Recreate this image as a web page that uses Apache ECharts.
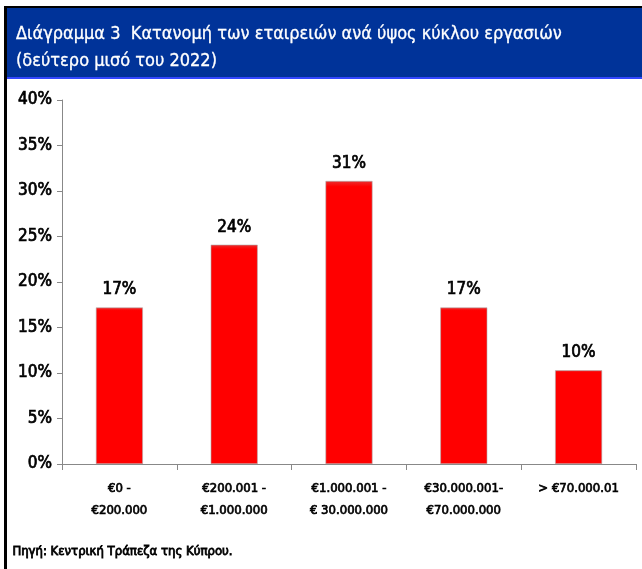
<!DOCTYPE html>
<html>
<head>
<meta charset="utf-8">
<script src="https://cdn.jsdelivr.net/npm/echarts@6/dist/echarts.min.js"></script>
<style>
  html, body { margin: 0; padding: 0; background: #fff; }
  #chart { width: 642px; height: 569px; }
</style>
</head>
<body>
<div id="chart"></div>
<script>
// turnover bands (x axis)
const categories = ['€0 -\n€200.000', '€200.001 -\n€1.000.000', '€1.000.001 -\n€ 30.000.000', '€30.000.001-\n€70.000.000', '> €70.000.01'];
// share of companies, %
const shares = [17.2, 24.1, 31.1, 17.2, 10.3];
const titleLines = ['Διάγραμμα 3  Κατανομή των εταιρειών ανά ύψος κύκλου εργασιών', '(δεύτερο μισό του 2022)'];
const sourceText = 'Πηγή: Κεντρική Τράπεζα της Κύπρου.';

const font = '"DejaVu Sans Condensed", sans-serif';
// condensed face has no narrow bold here, so thicken with a thin outline
const heavy = { fontFamily: font, fontWeight: 'normal', color: '#000', textBorderColor: '#000', textBorderWidth: 0.7 };

let chart = echarts.init(document.getElementById('chart'));
chart.setOption({
    animation: false,
    backgroundColor: '#fff',
    title: {
        text: titleLines.join('\n'),
        left: 11, top: 16,
        textStyle: { color: '#fff', fontFamily: font, fontSize: 18, fontWeight: 'normal', lineHeight: 27,
            textBorderColor: '#fff', textBorderWidth: 0.3 }
    },
    graphic: [
        // title band
        { type: 'rect', z: -1, shape: { x: 6, y: 8, width: 636, height: 69 }, style: { fill: '#003399' } },
        { type: 'rect', z: -1, shape: { x: 6, y: 77, width: 636, height: 2 }, style: { fill: '#3347ff' } },
        // frame lines
        { type: 'rect', shape: { x: 4, y: 6, width: 638, height: 2 }, style: { fill: '#000' } },
        { type: 'rect', shape: { x: 4, y: 6, width: 3, height: 563 }, style: { fill: '#000' } },
        {
            type: 'text', left: 12, top: 545,
            style: { text: sourceText, fill: '#000', font: '13px ' + font, stroke: '#000', lineWidth: 0.8 }
        }
    ],
    grid: { left: 62, right: 6, top: 100, bottom: 105 },
    xAxis: {
        type: 'category',
        data: categories,
        axisLine: { lineStyle: { color: '#888' } },
        axisTick: { show: true, interval: 0, length: 6, lineStyle: { color: '#888' } },
        axisLabel: Object.assign({ interval: 0, fontSize: 13, lineHeight: 22, margin: 14 }, heavy)
    },
    yAxis: {
        type: 'value',
        min: 0, max: 40, interval: 5,
        axisLine: { show: true, lineStyle: { color: '#888' } },
        axisTick: { show: true, length: 5, lineStyle: { color: '#888' } },
        splitLine: { show: false },
        axisLabel: Object.assign({ formatter: '{value}%', fontSize: 17, margin: 10 }, heavy)
    },
    series: [{
        type: 'bar',
        data: shares,
        barWidth: 47,
        itemStyle: {
            color: new echarts.graphic.LinearGradient(0, 0, 0, 1, [
                { offset: 0, color: '#e83030' },
                { offset: 0.02, color: '#ff0000' },
                { offset: 1, color: '#ff0000' }
            ]),
            borderColor: '#b0b0b0', borderWidth: 0.6
        },
        label: Object.assign({
            show: true, position: 'top', distance: 9,
            formatter: p => Math.round(p.value) + '%',
            fontSize: 17
        }, heavy)
    }]
});
</script>
</body>
</html>
